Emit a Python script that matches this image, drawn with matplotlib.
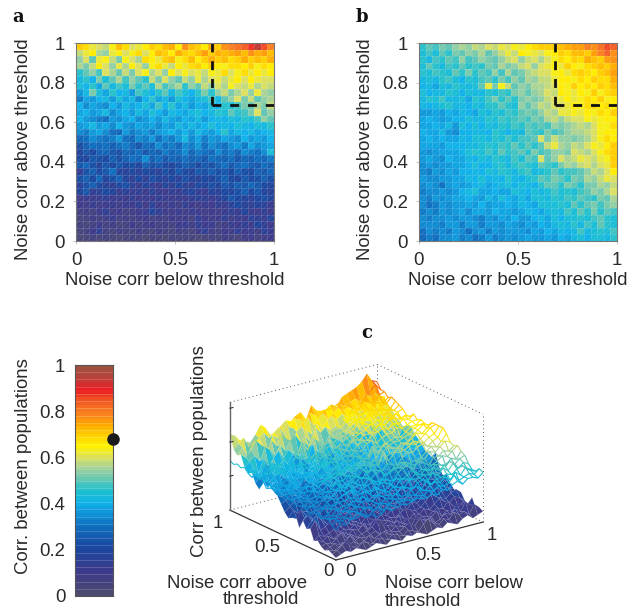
import numpy as np
import matplotlib
matplotlib.use('agg')
import matplotlib.pyplot as plt
from matplotlib.colors import LinearSegmentedColormap
from matplotlib.patches import Rectangle
from mpl_toolkits.mplot3d import proj3d
from mpl_toolkits.mplot3d.art3d import Line3DCollection

plt.rcParams['font.family'] = ['Liberation Sans', 'DejaVu Sans']
plt.rcParams['hatch.linewidth'] = 0.4
W, H = 641, 610
INK = '#2b2a2b'
FS = 13.4

# colour scale
cb_levels = [0, .1, .2, .3, .4, .45, .5, .55, .6, .65, .7, .75, .8, .85, .9, .95, 1]
cb_colors = ['#4c4a70', '#3d3a8c', '#1a479f', '#0f6fc0', '#0fb2ea', '#1cc0d0', '#5cc5b5', '#9ed1a0',
             '#dbe060', '#fff200', '#ffd000', '#ffa500', '#f98020', '#f25a25', '#ed1c24', '#b8423a', '#a05040']
cb_ticks = [0, .2, .4, .6, .8, 1]
cb_marker = 0.68

# panel a, corr x 100, top row first
a_rows = [
[70,68,62,60,58,64,72,68,60,62,66,70,68,72,74,66,78,72,70,66,74,70,78,80,82,84,88,94,86,80],
[58,62,66,56,54,62,66,60,64,68,60,66,72,70,66,74,70,68,72,76,70,74,72,74,76,72,78,74,76,72],
[54,60,50,62,64,58,52,64,60,56,68,66,62,70,72,64,68,72,66,70,74,70,72,68,70,74,70,72,70,74],
[56,52,58,66,60,54,62,56,66,60,54,64,68,62,58,66,62,68,70,66,70,66,64,68,68,66,70,64,68,66],
[46,50,54,48,60,56,50,58,52,60,64,56,60,54,66,60,64,60,62,58,64,62,68,60,64,68,62,66,62,66],
[42,46,40,52,44,50,56,48,54,50,46,58,52,60,54,50,58,54,62,56,60,62,58,62,66,60,66,62,60,60],
[44,40,46,38,50,42,48,44,52,46,50,44,56,48,52,56,46,54,50,58,54,60,56,64,60,58,62,56,60,58],
[36,42,52,44,38,46,40,42,36,48,44,40,46,50,42,48,44,40,46,52,46,54,58,52,56,60,54,62,56,54],
[32,38,36,40,42,36,44,38,42,34,40,46,38,42,36,44,40,38,42,44,48,42,50,54,60,52,58,50,54,56],
[40,34,38,36,34,40,36,42,38,40,44,38,48,40,46,38,42,36,40,38,44,40,46,44,48,52,50,56,52,58],
[38,40,36,38,42,34,38,40,36,42,38,44,40,36,42,40,38,42,44,40,42,46,44,50,46,48,52,60,50,54],
[40,36,34,32,30,36,34,38,40,34,36,40,36,42,38,36,40,38,42,36,40,42,40,44,42,46,44,48,54,50],
[36,38,42,36,38,34,40,36,34,38,36,38,34,38,36,42,38,42,38,40,44,40,42,40,44,42,40,44,42,46],
[34,32,36,38,34,30,28,36,32,34,36,32,36,38,40,36,40,36,42,38,36,40,46,38,42,40,42,38,40,42],
[28,30,34,32,30,32,36,30,28,34,32,36,30,34,32,36,42,34,38,32,36,34,38,36,34,40,36,38,36,40],
[22,26,30,28,30,26,30,32,28,24,30,28,34,30,32,28,34,32,36,30,34,32,30,34,36,32,38,34,36,38],
[18,24,20,26,28,24,22,28,26,30,24,28,26,32,28,30,34,28,32,30,28,34,30,32,28,34,32,30,34,44],
[20,18,24,22,20,26,22,26,30,28,34,26,30,24,28,26,30,26,28,24,30,28,26,30,24,28,26,30,28,32],
[24,28,22,18,24,20,24,20,22,18,26,22,24,20,18,22,26,24,20,24,22,26,30,24,28,30,26,24,30,26],
[14,22,26,20,24,30,18,16,20,16,20,18,16,22,18,24,20,18,24,22,26,22,24,20,26,22,20,26,24,28],
[22,26,20,28,18,22,26,18,14,20,14,22,18,16,20,16,22,18,16,20,18,22,26,20,18,24,20,22,26,22],
[16,22,26,20,16,14,20,22,16,12,18,14,12,18,14,20,16,14,20,18,22,18,24,22,26,24,28,24,20,18],
[18,24,14,16,20,18,12,16,12,14,10,16,12,10,14,12,16,18,14,12,18,16,20,18,22,26,20,24,18,16],
[8,12,10,12,14,10,12,10,14,10,12,10,14,12,10,12,10,14,16,14,12,14,18,24,20,18,16,20,22,18],
[10,8,12,8,10,12,8,12,10,14,8,16,10,8,12,8,14,10,8,12,10,14,12,16,20,16,14,18,16,12],
[6,8,6,10,14,8,10,6,8,10,12,18,14,10,8,12,8,12,10,8,10,8,12,14,12,18,12,10,14,10],
[4,6,8,6,8,12,6,8,6,8,10,6,8,6,10,8,10,6,14,10,8,10,14,8,12,10,16,14,12,18],
[6,4,6,10,6,8,4,6,10,6,8,10,6,8,6,10,12,8,14,10,12,6,8,12,10,14,10,18,14,10],
[4,6,10,14,6,4,8,6,4,8,6,4,8,6,4,8,6,4,10,14,8,6,10,8,14,10,12,8,16,12],
[2,4,6,4,6,4,2,4,6,4,2,6,4,2,6,4,6,4,2,4,6,4,8,6,4,8,10,6,8,10],
]

# panel b, corr x 100, top row first
b_rows = [
[46,50,48,52,50,54,56,54,58,56,60,58,62,60,64,62,66,68,70,70,70,72,74,76,76,80,78,82,86,84],
[44,48,44,50,46,52,50,54,52,56,50,54,58,62,58,66,64,62,60,64,66,70,68,72,72,70,76,80,84,78],
[46,42,48,46,50,48,54,48,50,54,52,50,54,58,60,54,58,60,56,60,64,68,66,70,68,74,72,70,76,78],
[44,50,46,42,48,46,50,46,48,46,52,50,56,52,54,58,60,54,60,62,66,62,70,66,64,68,70,72,70,74],
[46,44,48,46,44,50,46,52,46,50,48,54,48,56,50,52,56,58,60,60,64,66,62,68,70,68,66,70,72,76],
[42,44,42,46,48,44,40,46,44,48,50,46,52,48,54,50,56,54,58,58,62,66,66,64,68,66,70,68,68,74],
[40,42,38,44,42,46,44,42,44,50,62,52,64,58,50,54,52,56,56,58,60,66,64,70,66,68,66,70,68,72],
[44,40,42,42,46,44,40,44,42,42,46,44,48,46,52,54,50,54,56,60,58,66,64,62,66,64,70,64,68,70],
[42,46,44,48,42,42,44,38,46,44,48,52,46,50,46,52,54,52,54,58,60,62,66,62,64,68,66,70,64,66],
[42,40,42,44,46,42,42,40,44,42,46,46,50,46,44,54,50,54,58,56,60,60,62,66,64,68,68,66,68,66],
[36,36,38,36,40,38,42,40,38,44,42,46,44,48,46,50,52,50,54,58,56,62,62,64,62,66,64,68,66,70],
[38,40,38,36,38,40,40,44,42,42,46,44,48,46,48,50,48,52,50,56,58,54,58,60,60,64,62,64,66,66],
[38,38,40,38,42,36,44,40,44,40,44,42,46,44,48,46,50,48,50,48,54,52,54,56,58,56,60,64,64,68],
[40,38,38,42,36,34,40,40,42,42,40,46,44,40,44,42,50,48,46,52,48,50,54,56,56,58,60,64,66,66],
[38,40,38,40,38,38,42,40,44,44,42,46,44,48,44,48,48,50,60,52,58,54,54,52,54,56,60,64,68,66],
[38,38,38,36,40,40,40,42,42,44,46,44,48,46,50,46,50,46,50,58,62,56,54,58,56,60,64,62,66,70],
[36,34,36,38,38,38,40,44,46,44,48,44,50,46,48,50,46,52,48,50,54,54,52,60,58,56,60,64,68,70],
[36,38,36,34,40,38,38,42,40,44,42,46,44,42,48,44,50,48,60,50,54,60,56,58,62,60,58,62,64,70],
[34,36,34,36,36,38,38,40,44,40,40,44,46,42,46,48,46,44,50,48,46,52,56,54,58,60,56,60,62,70],
[34,32,36,34,38,36,40,40,42,40,44,42,46,44,42,46,48,42,44,46,50,46,48,48,50,54,58,56,60,66],
[36,34,34,36,36,38,38,42,40,44,40,42,40,46,42,40,44,46,50,48,52,50,46,52,50,56,54,58,62,60],
[34,36,34,30,36,38,36,38,40,42,38,40,42,44,40,44,42,40,46,50,50,46,52,50,46,52,52,56,54,58],
[32,34,34,36,34,36,40,42,44,38,38,40,38,38,44,42,40,44,42,44,48,44,46,44,48,50,54,52,56,60],
[34,32,36,34,36,38,38,40,38,36,42,38,44,40,38,42,38,44,44,42,46,44,48,46,50,48,46,52,50,56],
[34,30,32,36,34,36,36,38,36,40,36,38,38,40,38,42,40,38,44,44,44,46,44,50,46,50,52,48,52,54],
[32,34,32,36,34,36,38,34,38,38,36,40,38,38,36,38,42,40,38,42,44,42,48,44,50,46,52,46,50,48],
[34,32,34,34,36,34,36,36,34,32,36,34,38,36,40,36,36,40,42,38,44,40,44,44,46,44,48,50,46,44],
[34,34,34,32,36,36,32,36,36,32,36,36,34,38,36,34,38,36,40,38,42,44,42,46,42,48,44,50,46,44],
[30,34,32,34,32,36,34,30,34,36,32,36,34,36,36,36,34,38,36,40,38,42,40,42,48,42,44,46,44,48],
[28,32,30,34,34,36,32,34,30,32,36,32,34,36,34,36,38,36,36,38,36,40,38,42,44,40,44,44,42,46],
]

x_ticks = [0, .5, 1]
y_ticks = [0, .2, .4, .6, .8, 1]
tick_text = {0: '0', .2: '0.2', .4: '0.4', .5: '0.5', .6: '0.6', .8: '0.8', 1: '1'}
threshold = 0.685

cmap = LinearSegmentedColormap.from_list('corr', list(zip(cb_levels, cb_colors)), N=256)
z_a = np.array(a_rows)[::-1] / 100.0
z_b = np.array(b_rows)[::-1] / 100.0


def px_axes(left, top, right, bottom, **kw):
    return fig.add_axes([left / W, 1 - bottom / H, (right - left) / W, (bottom - top) / H], **kw)


def ftext(x, y, s, **kw):
    kw.setdefault('fontsize', FS)
    kw.setdefault('color', INK)
    kw.setdefault('ha', 'center')
    kw.setdefault('va', 'center')
    return fig.text(x / W, 1 - y / H, s, **kw)


def heat(ax, z):
    n = z.shape[0]
    edges = np.linspace(0, 1, n + 1)
    ax.pcolormesh(edges, edges, z, cmap=cmap, vmin=0, vmax=1)
    ax.hlines(edges, 0, 1, color='w', lw=0.4, alpha=0.22)
    ax.vlines(edges, 0, 1, color='w', lw=0.4, alpha=0.22)
    ax.add_patch(Rectangle((0, 0), 1, 1, fill=False, hatch='//////', edgecolor=(1, 1, 1, 0.16), lw=0))
    ax.plot([threshold, threshold], [1, threshold], color='#111111', lw=2, dashes=(3.2, 3.2))
    ax.plot([threshold, 1], [threshold, threshold], color='#111111', lw=2, dashes=(3.2, 3.2))
    ax.set_xlim(0, 1)
    ax.set_ylim(0, 1)
    ax.set_xticks(x_ticks, [tick_text[t] for t in x_ticks])
    ax.set_yticks(y_ticks, [tick_text[t] for t in y_ticks])
    ax.tick_params(labelsize=FS, labelcolor=INK, color='#bbbbbb', length=2, width=0.6, pad=6)
    for s in ax.spines.values():
        s.set_color('#777777')
        s.set_linewidth(0.8)


fig = plt.figure(figsize=(W / 100, H / 100), dpi=100)

# a, b
ax_a = px_axes(76, 43, 274, 241)
heat(ax_a, z_a)
ax_b = px_axes(419, 43, 617, 241)
heat(ax_b, z_b)
ftext(24, 149, 'Noise corr above threshold', rotation=90)
ftext(175, 280, 'Noise corr below threshold')
ftext(366, 149, 'Noise corr above threshold', rotation=90)
ftext(518, 280, 'Noise corr below threshold')

# colour bar
ax_c = px_axes(75, 365, 113, 596)
ax_c.imshow(np.linspace(0, 1, 64)[:, None], cmap=cmap, origin='lower', aspect='auto', extent=(0, 1, 0, 1))
ax_c.hlines(np.linspace(0, 1, 33)[1:-1], 0, 1, color='w', lw=0.4, alpha=0.3)
ax_c.set_xticks([])
ax_c.set_yticks(cb_ticks, [tick_text[t] for t in cb_ticks])
ax_c.tick_params(labelsize=FS, labelcolor=INK, length=0, pad=7)
for s in ax_c.spines.values():
    s.set_color('#555555')
    s.set_linewidth(0.8)
ax_c.plot([1], [cb_marker], 'o', color='#1a1a1a', ms=8, clip_on=False, zorder=5)
ftext(24, 466, 'Corr. between populations', rotation=90)

# c: panel a as a filled surface, panel b as a mesh on it
z_top = 1.0
z_marks = [0.315, 0.63, 0.945]
ax3 = fig.add_axes([0.25, 0.05, 0.6, 0.6], projection='3d', computed_zorder=False)
ax3.set_proj_type('ortho')
ax3.view_init(elev=20.4, azim=-126.5)
ax3.set_box_aspect((183, 178, 115), zoom=1)
ax3.set_xlim(0, 1)
ax3.set_ylim(0, 1)
ax3.set_zlim(0, z_top)
ax3.set_axis_off()
ax3.patch.set_alpha(0)

n = z_a.shape[0]
grid = np.linspace(0, 1, n)
X, Y = np.meshgrid(grid, grid)
ax3.plot_surface(X, Y, z_a, facecolors=cmap(z_a), rcount=n, ccount=n, shade=False, linewidth=0, zorder=2)

low_segs, mesh_segs, mesh_cols = [], [], []
for i in range(n):
    for j in range(n - 1):
        for p, q in (((i, j), (i, j + 1)), ((j, i), (j + 1, i))):
            if z_a[p] < 0.25:
                low_segs.append([(X[p], Y[p], z_a[p]), (X[q], Y[q], z_a[q])])
            # the mesh only shows where it lies over the surface, or past its left edge
            if z_b[p] + z_b[q] >= z_a[p] + z_a[q] - 0.04 or (p[1] == 0 and q[1] == 0 and p[0] > 20):
                mesh_segs.append([(X[p], Y[p], z_b[p]), (X[q], Y[q], z_b[q])])
                mesh_cols.append(cmap((z_b[p] + z_b[q]) / 2))
ax3.add_collection3d(Line3DCollection(low_segs, colors=[(0.7, 0.65, 0.85, 0.16)], linewidths=0.5, zorder=3))
ax3.add_collection3d(Line3DCollection(mesh_segs, colors=mesh_cols, linewidths=0.8, zorder=4))

# box edges and z ticks
dot = dict(color='#555555', lw=0.7, ls=(0, (1, 3)), zorder=1)
for p, q in [((0, 1, 0), (1, 1, 0)), ((1, 1, 0), (1, 0, 0)), ((1, 1, 0), (1, 1, z_top)),
             ((0, 1, z_top), (1, 1, z_top)), ((1, 1, z_top), (1, 0, z_top)), ((1, 0, 0), (1, 0, z_top))]:
    ax3.plot(*zip(p, q), **dot)
solid = dict(color='#333333', lw=0.9, zorder=1)
ax3.plot([0, 1], [0, 0], [0, 0], **solid)
ax3.plot([0, 0], [0, 1], [0, 0], **solid)
ax3.plot([0, 0], [1, 1], [0, z_top], color='#666666', lw=1.0, zorder=5)
for zt in z_marks:
    ax3.plot([0, 0.02], [1, 1], [zt, zt], color='#333333', lw=0.8, zorder=5)

# move the box so its corners land where they are in the picture
for _ in range(2):
    fig.canvas.draw()
    proj = ax3.get_proj()
    pts = []
    for c in [(0, 1, 0), (1, 0, 0), (0, 0, 0)]:
        u, v, _w = proj3d.proj_transform(*c, proj)
        pts.append(ax3.transData.transform((u, v)))
    span = pts[1][0] - pts[0][0]
    pos = ax3.get_position(original=True)
    k = 253.0 / span
    pos_w, pos_h = pos.width * k, pos.height * k
    fx = (pts[2][0] - ax3.bbox.x0) / ax3.bbox.width
    fy = (pts[2][1] - ax3.bbox.y0) / ax3.bbox.height
    ax3.set_position([335 / W - fx * pos_w, 1 - 560 / H - fy * pos_h, pos_w, pos_h])

ftext(199, 451, 'Corr between populations', rotation=90)
ftext(218, 523, '1')
ftext(267, 547, '0.5')
ftext(328, 572, '0')
ftext(350, 572, '0')
ftext(428, 555, '0.5')
ftext(492, 535, '1')
ftext(237, 583, 'Noise corr above')
ftext(261, 600, 'threshold')
ftext(385, 583, 'Noise corr below', ha='left')
ftext(385, 602, 'threshold', ha='left')

# panel letters
for (x, y, s) in [(18, 17, 'a'), (362, 17, 'b'), (367, 333, 'c')]:
    ftext(x, y, s, family='DejaVu Serif', fontweight='bold', fontsize=13, color='#111111')

fig.savefig('out.png', dpi=100)
